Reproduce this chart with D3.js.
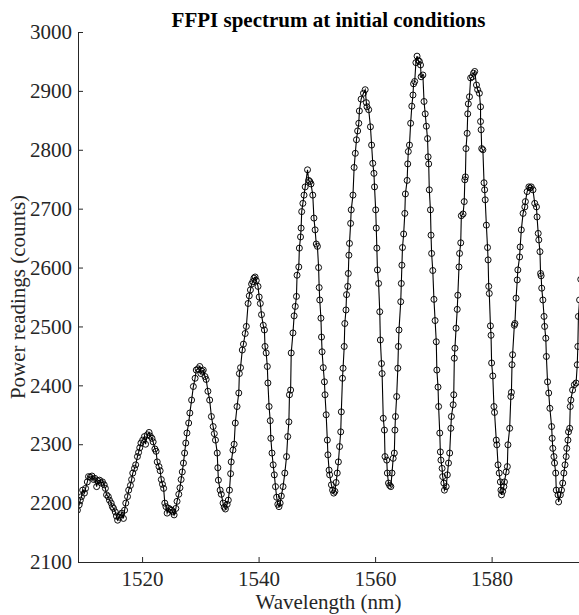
<!DOCTYPE html>
<html>
<head>
<meta charset="utf-8">
<script src="https://cdn.jsdelivr.net/npm/d3@7"></script>
<style>
  body { margin: 0; background: #fff; }
  text { font-family: "Liberation Serif", "Times New Roman", serif; }
</style>
</head>
<body>
<svg width="579" height="615"></svg>
<script>
// wavelength (nm) of each reading
var wavelength = [
  1508.9,1509.2,1509.4,1509.6,1509.8,1510.1,1510.3,1510.6,1510.8,1511.1,
  1511.4,1511.7,1511.9,1512.2,1512.4,1512.7,1513.0,1513.2,1513.5,1513.7,
  1513.9,1514.2,1514.4,1514.7,1514.9,1515.1,1515.4,1515.6,1515.8,1516.1,
  1516.3,1516.5,1516.8,1517.0,1517.2,1517.5,1517.7,1518.0,1518.2,1518.4,
  1518.7,1518.9,1519.2,1519.4,1519.6,1519.8,1520.1,1520.4,1520.6,1520.9,
  1521.2,1521.4,1521.7,1521.9,1522.2,1522.4,1522.6,1522.9,1523.1,1523.3,
  1523.5,1523.7,1523.9,1524.1,1524.3,1524.6,1524.8,1525.1,1525.3,1525.5,
  1525.8,1526.0,1526.3,1526.5,1526.7,1526.9,1527.1,1527.3,1527.5,1527.7,
  1528.0,1528.2,1528.5,1528.8,1529.1,1529.3,1529.6,1529.9,1530.1,1530.3,
  1530.5,1530.8,1531.0,1531.3,1531.6,1531.9,1532.2,1532.4,1532.6,1532.9,
  1533.0,1533.1,1533.4,1533.6,1533.9,1534.1,1534.3,1534.6,1534.8,1535.0,
  1535.2,1535.3,1535.6,1535.8,1536.0,1536.3,1536.6,1536.7,1536.9,1537.2,
  1537.4,1537.7,1537.9,1538.2,1538.4,1538.6,1538.8,1539.0,1539.2,1539.4,
  1539.6,1539.9,1540.1,1540.3,1540.5,1540.8,1541.0,1541.1,1541.3,1541.5,
  1541.6,1541.8,1542.0,1542.1,1542.3,1542.5,1542.7,1542.9,1543.1,1543.3,
  1543.5,1543.7,1543.9,1544.2,1544.5,1544.8,1545.0,1545.2,1545.3,1545.5,
  1545.6,1545.9,1546.1,1546.3,1546.5,1546.6,1546.9,1547.0,1547.2,1547.3,
  1547.4,1547.6,1547.8,1548.0,1548.4,1548.6,1548.8,1549.0,1549.3,1549.5,
  1549.7,1549.9,1550.1,1550.3,1550.4,1550.5,1550.7,1550.8,1550.9,1551.1,
  1551.3,1551.4,1551.6,1551.8,1551.9,1552.1,1552.2,1552.5,1552.7,1552.9,
  1553.1,1553.3,1553.5,1553.7,1553.9,1554.1,1554.2,1554.4,1554.5,1554.7,
  1554.8,1555.0,1555.1,1555.3,1555.4,1555.5,1555.6,1555.8,1555.9,1556.2,
  1556.4,1556.6,1556.8,1557.0,1557.2,1557.3,1557.6,1558.0,1558.3,1558.5,
  1558.6,1558.9,1559.2,1559.4,1559.6,1559.8,1559.9,1560.1,1560.2,1560.3,
  1560.4,1560.6,1560.8,1560.9,1561.1,1561.2,1561.4,1561.6,1561.7,1562.0,
  1562.1,1562.3,1562.5,1562.7,1562.9,1563.1,1563.3,1563.4,1563.5,1563.7,
  1563.9,1564.0,1564.1,1564.4,1564.5,1564.6,1564.7,1564.9,1565.1,1565.2,
  1565.5,1565.6,1565.7,1565.9,1566.1,1566.3,1566.5,1566.6,1566.8,1567.0,
  1567.2,1567.4,1567.6,1567.8,1567.9,1568.2,1568.4,1568.6,1568.8,1569.0,
  1569.1,1569.2,1569.3,1569.5,1569.6,1569.7,1569.9,1570.1,1570.3,1570.5,
  1570.6,1570.8,1570.9,1571.1,1571.2,1571.3,1571.5,1571.6,1571.8,1571.9,
  1572.2,1572.4,1572.6,1572.8,1573.0,1573.1,1573.4,1573.5,1573.6,1573.7,
  1573.9,1574.1,1574.2,1574.4,1574.5,1574.7,1574.8,1575.1,1575.3,1575.4,
  1575.5,1575.6,1575.8,1575.9,1576.0,1576.2,1576.4,1576.7,1576.9,1577.1,
  1577.4,1577.6,1577.9,1578.1,1578.1,1578.2,1578.3,1578.5,1578.7,1578.8,
  1578.9,1579.1,1579.3,1579.4,1579.5,1579.6,1579.8,1579.9,1580.0,1580.2,
  1580.4,1580.5,1580.8,1580.9,1581.1,1581.3,1581.5,1581.6,1581.7,1581.9,
  1582.1,1582.2,1582.5,1582.7,1582.8,1583.1,1583.3,1583.4,1583.5,1583.6,
  1583.9,1584.0,1584.2,1584.4,1584.5,1584.8,1584.9,1585.1,1585.4,1585.7,
  1585.8,1586.1,1586.4,1586.6,1586.8,1587.1,1587.4,1587.7,1587.8,1588.0,
  1588.1,1588.3,1588.4,1588.5,1588.6,1588.8,1589.0,1589.1,1589.3,1589.4,
  1589.6,1589.8,1590.0,1590.3,1590.4,1590.5,1590.7,1590.8,1591.0,1591.1,
  1591.4,1591.5,1591.8,1592.0,1592.2,1592.4,1592.6,1592.8,1592.9,1593.1,
  1593.2,1593.4,1593.5,1593.6,1593.9,1594.2,1594.5,1594.7,1594.8,1594.9,
  1595.1,1595.3
];

// power readings (counts)
var power = [
  2188,2197,2205,2211,2222,2217,2225,2236,2245,2244,
  2246,2240,2242,2228,2238,2239,2234,2236,2231,2225,
  2214,2211,2205,2200,2194,2191,2185,2178,2171,2176,
  2180,2183,2174,2188,2200,2211,2222,2230,2240,2251,
  2259,2265,2279,2286,2294,2302,2307,2313,2300,2316,
  2320,2314,2310,2304,2292,2288,2270,2262,2255,2240,
  2232,2225,2200,2194,2183,2191,2189,2188,2185,2180,
  2191,2203,2215,2226,2240,2253,2268,2285,2302,2319,
  2336,2353,2375,2398,2412,2426,2428,2432,2420,2424,
  2426,2415,2410,2390,2375,2347,2330,2318,2307,2285,
  2260,2239,2222,2215,2200,2193,2190,2198,2205,2222,
  2250,2270,2290,2300,2336,2364,2387,2420,2430,2460,
  2470,2488,2500,2539,2552,2562,2572,2576,2582,2584,
  2578,2568,2550,2539,2520,2502,2494,2466,2455,2432,
  2404,2364,2340,2310,2285,2265,2248,2228,2210,2198,
  2194,2200,2212,2228,2251,2279,2313,2338,2384,2392,
  2455,2489,2518,2534,2551,2587,2601,2633,2652,2667,
  2695,2709,2723,2737,2766,2748,2746,2742,2723,2684,
  2664,2640,2636,2600,2566,2545,2514,2482,2457,2430,
  2406,2384,2350,2307,2282,2256,2248,2231,2222,2217,
  2220,2235,2251,2270,2296,2321,2355,2412,2429,2466,
  2505,2528,2554,2568,2590,2621,2641,2675,2698,2723,
  2770,2794,2817,2832,2845,2866,2886,2896,2902,2880,
  2873,2868,2839,2808,2777,2760,2737,2698,2667,2633,
  2596,2573,2525,2477,2437,2420,2344,2324,2279,2273,
  2251,2234,2230,2228,2251,2276,2285,2324,2347,2381,
  2429,2466,2494,2542,2573,2604,2634,2657,2692,2725,
  2748,2776,2797,2808,2845,2874,2893,2912,2916,2948,
  2959,2952,2950,2944,2924,2927,2882,2861,2840,2819,
  2788,2776,2732,2698,2655,2624,2595,2546,2510,2474,
  2426,2397,2364,2319,2287,2273,2259,2245,2234,2222,
  2228,2248,2268,2285,2327,2347,2367,2384,2446,2463,
  2497,2529,2553,2601,2624,2642,2688,2691,2712,2749,
  2754,2802,2828,2861,2878,2890,2922,2924,2930,2933,
  2910,2902,2896,2873,2848,2834,2802,2800,2744,2732,
  2715,2672,2634,2613,2568,2556,2501,2485,2438,2416,
  2364,2354,2307,2299,2265,2251,2236,2222,2214,2220,
  2228,2236,2253,2262,2299,2327,2381,2388,2435,2452,
  2502,2505,2548,2579,2596,2618,2635,2664,2692,2703,
  2712,2729,2737,2735,2737,2732,2709,2703,2686,2658,
  2647,2627,2590,2586,2565,2545,2517,2500,2480,2449,
  2406,2387,2361,2330,2310,2293,2279,2268,2251,2222,
  2214,2202,2214,2222,2234,2251,2265,2279,2293,2307,
  2321,2327,2364,2375,2392,2401,2404,2435,2466,2517,
  2545,2580
];

var xTicks = [1520, 1540, 1560, 1580];
var yTicks = [2100, 2200, 2300, 2400, 2500, 2600, 2700, 2800, 2900, 3000];

var chartTitle = "FFPI spectrum at initial conditions";
var xTitle = "Wavelength (nm)";
var yTitle = "Power readings (counts)";

var datum = wavelength.map(function(w, i) { return { w: w, p: power[i] }; });
if (wavelength.length !== power.length) console.log("length mismatch", wavelength.length, power.length);

var svg = d3.select("svg");
var ink = "#262626";

var plotLeft = 78, plotRight = 579, plotTop = 32, plotBottom = 562;

var xScale = d3.scaleLinear()
    .domain([1509, 1595])
    .range([plotLeft, plotRight]);

var yScale = d3.scaleLinear()
    .domain([2100, 3000])
    .range([plotBottom, plotTop]);

// clip the data to the axes box
svg.append("defs").append("clipPath")
    .attr("id", "plotClip")
  .append("rect")
    .attr("x", plotLeft)
    .attr("y", plotTop - 6)
    .attr("width", plotRight - plotLeft)
    .attr("height", plotBottom - plotTop + 6);

var plot = svg.append("g").attr("clip-path", "url(#plotClip)");

var line = d3.line()
    .x(function(d) { return xScale(d.w); })
    .y(function(d) { return yScale(d.p); });

plot.append("path")
    .datum(datum)
    .attr("d", line)
    .attr("fill", "none")
    .attr("stroke", "#000")
    .attr("stroke-width", 1.1);

plot.selectAll("circle")
    .data(datum)
    .enter()
    .append("circle")
    .attr("cx", function(d) { return xScale(d.w); })
    .attr("cy", function(d) { return yScale(d.p); })
    .attr("r", 3)
    .attr("fill", "none")
    .attr("stroke", "#000")
    .attr("stroke-width", 0.95);

// axes (MATLAB style: ticks pointing inward, no box)
var xAxis = d3.axisBottom(xScale)
    .tickValues(xTicks)
    .tickSizeInner(-5)
    .tickSizeOuter(0)
    .tickPadding(9)
    .tickFormat(d3.format("d"));

var yAxis = d3.axisLeft(yScale)
    .tickValues(yTicks)
    .tickSizeInner(-5)
    .tickSizeOuter(0)
    .tickPadding(6)
    .tickFormat(d3.format("d"));

var gx = svg.append("g")
    .attr("transform", "translate(0," + plotBottom + ")")
    .call(xAxis);

var gy = svg.append("g")
    .attr("transform", "translate(" + plotLeft + ",0)")
    .call(yAxis);

[gx, gy].forEach(function(g) {
  g.select(".domain").attr("stroke", ink).attr("stroke-width", 1);
  g.selectAll(".tick line").attr("stroke", ink).attr("stroke-width", 1);
  g.selectAll(".tick text")
      .attr("fill", ink)
      .style("font-size", "21px")
      .style("font-family", "'Liberation Serif', 'Times New Roman', serif");
});

svg.append("text")
    .attr("x", (plotLeft + plotRight) / 2)
    .attr("y", 27)
    .attr("text-anchor", "middle")
    .attr("font-weight", "bold")
    .attr("font-size", "21px")
    .attr("fill", "#000")
    .text(chartTitle);

svg.append("text")
    .attr("x", (plotLeft + plotRight) / 2)
    .attr("y", 609)
    .attr("text-anchor", "middle")
    .attr("font-size", "21px")
    .attr("fill", ink)
    .text(xTitle);

svg.append("text")
    .attr("transform", "translate(25," + ((plotTop + plotBottom) / 2) + ") rotate(-90)")
    .attr("text-anchor", "middle")
    .attr("font-size", "21px")
    .attr("fill", ink)
    .text(yTitle);
</script>
</body>
</html>
